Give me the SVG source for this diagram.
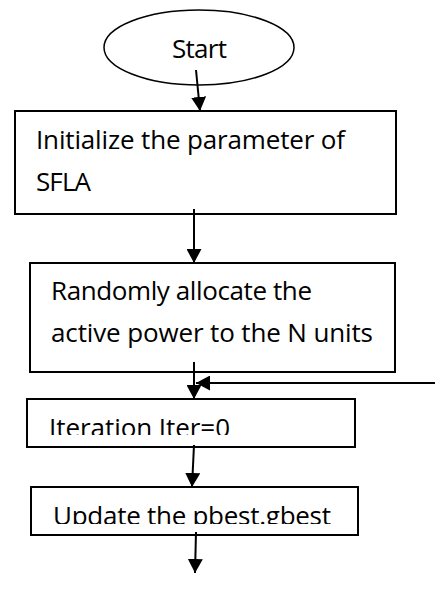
<svg xmlns="http://www.w3.org/2000/svg" width="435" height="601" viewBox="0 0 435 601">
<style>
.box{fill:#fff;stroke:#000;stroke-width:2}
.t{font-family:"Open Sans","Noto Sans",sans-serif;font-size:26px;fill:#000}
.c{stroke:#000;stroke-width:2;fill:none}
</style>
<defs>
<marker id="ah" markerUnits="userSpaceOnUse" markerWidth="15" markerHeight="15" refX="14" refY="7.5" orient="auto">
<path d="M0,0 L14,7.5 L0,15 Z" fill="#000"/>
</marker>
<clipPath id="clipIter"><rect x="27" y="399" width="328" height="36"/></clipPath>
<clipPath id="clipUpd"><rect x="31" y="487" width="327" height="37"/></clipPath>
</defs>
<rect width="435" height="601" fill="#fff"/>
<g id="start">
<ellipse cx="199" cy="47.5" rx="95" ry="37.5" fill="#fff" stroke="#000" stroke-width="1.5"/>
<text class="t" x="172" y="58" textLength="55">Start</text>
</g>
<g id="init">
<rect class="box" x="15" y="111" width="381" height="103"/>
<text class="t" x="36" y="149" textLength="309">Initialize the parameter of</text>
<text class="t" x="36" y="191" textLength="55">SFLA</text>
</g>
<g id="alloc">
<rect class="box" x="30" y="263" width="365" height="109"/>
<text class="t" x="51" y="300" textLength="261">Randomly allocate the</text>
<text class="t" x="51" y="342" textLength="322">active power to the N units</text>
</g>
<g id="iter">
<rect class="box" x="27" y="399" width="328" height="48"/>
<text class="t" x="49" y="437" textLength="181" clip-path="url(#clipIter)">Iteration Iter=0</text>
</g>
<g id="update">
<rect class="box" x="31" y="487" width="327" height="48"/>
<text class="t" x="53" y="525" textLength="278" clip-path="url(#clipUpd)">Update the pbest.gbest</text>
</g>
<g id="connectors">
<line class="c" x1="196" y1="70" x2="200" y2="111" marker-end="url(#ah)"/>
<line class="c" x1="194" y1="209" x2="194" y2="263" marker-end="url(#ah)"/>
<line class="c" x1="194" y1="362" x2="194" y2="399" marker-end="url(#ah)"/>
<line class="c" x1="435" y1="383" x2="196" y2="383" marker-end="url(#ah)"/>
<line class="c" x1="194" y1="445" x2="192" y2="487" marker-end="url(#ah)"/>
<line class="c" x1="196" y1="532" x2="195" y2="573" marker-end="url(#ah)"/>
</g>
</svg>
